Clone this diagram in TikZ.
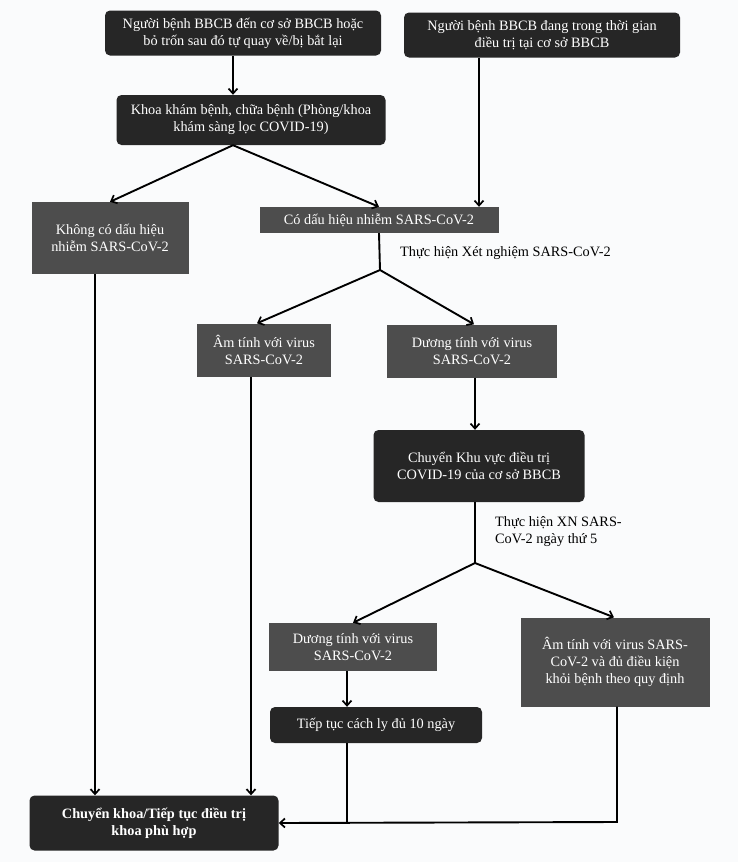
\documentclass[tikz,border=0pt]{standalone}
\usepackage{fontspec}
\setmainfont{Liberation Serif}
\usetikzlibrary{arrows.meta,calc}
\definecolor{darkbox}{HTML}{262626}
\definecolor{graybox}{HTML}{4D4D4D}
\definecolor{bg}{HTML}{FAFBFC}
\begin{document}
\begin{tikzpicture}[x=1pt,y=-1pt,
  base/.style={text=white,align=center,inner sep=2pt,
    font=\fontsize{14.3}{17}\selectfont},
  darkb/.style={base,fill=darkbox,rounded corners=5pt},
  grayb/.style={base,fill=graybox},
  arr/.style={line width=1.9pt,-{Straight Barb[length=5pt,width=9pt,line width=1.7pt]}},
  ln/.style={line width=1.9pt},
  lbl/.style={font=\fontsize{14.3}{17}\selectfont,align=left,anchor=west,inner sep=0pt}]
\useasboundingbox[fill=bg] (0,0) rectangle (738,862);
\node[darkb,minimum width=276pt,minimum height=45pt] (A) at (243,33)
  {Người bệnh BBCB đến cơ sở BBCB hoặc\\bỏ trốn sau đó tự quay về/bị bắt lại};
\node[darkb,minimum width=276pt,minimum height=45pt] (B) at (542,35)
  {Người bệnh BBCB đang trong thời gian\\điều trị tại cơ sở BBCB};
\node[darkb,minimum width=269pt,minimum height=50pt] (C) at (251,120)
  {Khoa khám bệnh, chữa bệnh (Phòng/khoa\\khám sàng lọc COVID-19)};
\node[grayb,minimum width=157pt,minimum height=72pt] (D) at (110,238)
  {Không có dấu hiệu\\nhiễm SARS-CoV-2};
\node[grayb,minimum width=239pt,minimum height=26pt] (E) at (379,220)
  {Có dấu hiệu nhiễm SARS-CoV-2};
\node[lbl] (t1) at (400,253) {Thực hiện Xét nghiệm SARS-CoV-2};
\node[grayb,minimum width=134pt,minimum height=53pt] (F) at (264,350)
  {Âm tính với virus\\SARS-CoV-2};
\node[grayb,minimum width=170pt,minimum height=53pt] (G) at (472,351)
  {Dương tính với virus\\SARS-CoV-2};
\node[darkb,minimum width=211pt,minimum height=72pt] (H) at (479,466)
  {Chuyển Khu vực điều trị\\COVID-19 của cơ sở BBCB};
\node[lbl] (t2) at (495,532) {Thực hiện XN SARS-\\CoV-2 ngày thứ 5};
\node[grayb,minimum width=168pt,minimum height=48pt] (I) at (353,647)
  {Dương tính với virus\\SARS-CoV-2};
\node[grayb,minimum width=189pt,minimum height=89pt] (J) at (615,662)
  {Âm tính với virus SARS-\\CoV-2 và đủ điều kiện\\khỏi bệnh theo quy định};
\node[darkb,minimum width=212pt,minimum height=36pt] (K) at (376,725)
  {Tiếp tục cách ly đủ 10 ngày};
\node[darkb,minimum width=249pt,minimum height=55pt,font=\fontsize{14.3}{17}\selectfont\bfseries] (L) at (154,823)
  {Chuyển khoa/Tiếp tục điều trị\\khoa phù hợp};
\coordinate (cA) at (233,0);
\coordinate (cB) at (479,0);
\coordinate (p1) at (380,270);
\coordinate (p2) at (475,563);
\coordinate (m) at (617,822);
\coordinate (mk) at (347,822);
% connectors
\draw[arr] (A.south -| cA) -- (C.north -| cA);
\draw[arr] (B.south -| cB) -- (E.north -| cB);
\draw[arr] (C.south -| cA) -- (D.north);
\draw[arr] (C.south -| cA) -- (E.north);
\draw[ln] (E.south) -- (p1);
\draw[arr] (p1) -- ([xshift=-7pt]F.north);
\draw[arr] (p1) -- ([xshift=2pt]G.north);
\draw[arr] (G.south -| p2) -- (H.north -| p2);
\draw[ln] (H.south -| p2) -- (p2);
\draw[arr] (p2) -- (I.north);
\draw[arr] (p2) -- ([xshift=-1pt]J.north);
\draw[arr] (I.south -| mk) -- (K.north -| mk);
\draw[arr] ([xshift=-15pt]D.south) -- ([xshift=-59pt]L.north);
\draw[arr] ([xshift=-13pt]F.south) -- ([xshift=97pt]L.north);
\draw[ln] (K.south -| mk) -- (mk);
\draw[arr] (J.south -| m) -- (m) -- (L.east);
\end{tikzpicture}
\end{document}
